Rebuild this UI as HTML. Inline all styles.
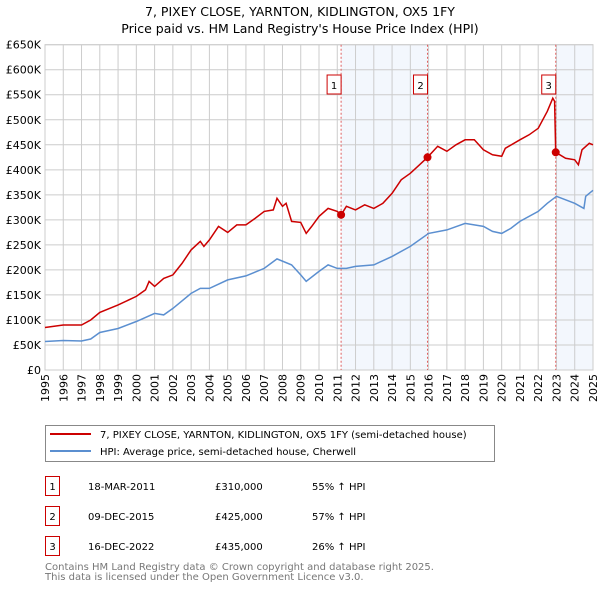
<!DOCTYPE html>
<html><head><meta charset="utf-8"><style>
body{margin:0;background:#fff;font-family:"DejaVu Sans","Liberation Sans",sans-serif;}
svg{display:block}
</style></head><body>
<svg id="c" width="600" height="590" xmlns="http://www.w3.org/2000/svg" font-family="DejaVu Sans, Liberation Sans, sans-serif">
<text x="300" y="16" text-anchor="middle" font-size="12.5" fill="#000">7, PIXEY CLOSE, YARNTON, KIDLINGTON, OX5 1FY</text>
<text x="300" y="33" text-anchor="middle" font-size="12.5" fill="#000">Price paid vs. HM Land Registry's House Price Index (HPI)</text>
<g id="grid"></g><g id="marks"></g>
<g>
<rect x="45.5" y="425.5" width="449" height="36" fill="#fff" stroke="#888"/>
<line x1="50" y1="434" x2="91" y2="434" stroke="#cc0000" stroke-width="2"/>
<text x="100" y="438" font-size="10">7, PIXEY CLOSE, YARNTON, KIDLINGTON, OX5 1FY (semi-detached house)</text>
<line x1="50" y1="451" x2="91" y2="451" stroke="#5b8fd0" stroke-width="2"/>
<text x="100" y="455" font-size="10">HPI: Average price, semi-detached house, Cherwell</text>
</g>
<g id="table" font-size="10"></g>
<text x="45" y="570" font-size="10" fill="#777">Contains HM Land Registry data © Crown copyright and database right 2025.</text>
<text x="45" y="580" font-size="10" fill="#777">This data is licensed under the Open Government Licence v3.0.</text>
</svg>
<script>
const hpiYears=[1995,1996,1997,1997.5,1998,1999,2000,2001,2001.5,2002,2003,2003.5,2004,2005,2006,2007,2007.7,2008.5,2009,2009.3,2010,2010.5,2011,2011.5,2012,2013,2014,2015,2016,2017,2018,2019,2019.5,2020,2020.5,2021,2022,2022.5,2023,2024,2024.5,2024.6,2025];
const hpiValues=[57,59,58,62,75,83,97,113,110,123,153,163,163,180,188,203,222,210,190,177,197,210,203,203,207,210,227,247,273,280,293,287,277,273,283,297,317,333,347,333,323,347,359];
const propYears=[1995,1996,1997,1997.5,1998,1999,2000,2000.5,2000.7,2001,2001.5,2002,2002.5,2003,2003.5,2003.7,2004,2004.5,2005,2005.5,2006,2006.5,2007,2007.5,2007.7,2008,2008.2,2008.5,2009,2009.3,2009.6,2010,2010.5,2011,2011.21,2011.5,2012,2012.5,2013,2013.5,2014,2014.5,2015,2015.5,2015.94,2016.5,2017,2017.5,2018,2018.5,2019,2019.5,2020,2020.2,2021,2021.5,2022,2022.5,2022.8,2022.9,2022.96,2023.5,2024,2024.2,2024.4,2024.8,2025];
const propValues=[85,90,90,100,115,130,147,160,177,167,183,190,213,240,257,247,260,287,275,290,290,303,317,320,343,327,333,297,295,273,287,307,323,317,310,327,320,330,323,333,353,380,393,410,425,447,437,450,460,460,440,430,427,443,460,470,483,517,543,537,435,423,420,410,440,453,450];
const saleYears=[2011.21,2015.94,2022.96];
const saleValues=[310,425,435];
const saleLabels=["1","2","3"];
const saleDates=["18-MAR-2011","09-DEC-2015","16-DEC-2022"];
const salePrices=["£310,000","£425,000","£435,000"];
const salePct=["55% ↑ HPI","57% ↑ HPI","26% ↑ HPI"];
const yTicks=[0,50,100,150,200,250,300,350,400,450,500,550,600,650];
const yTickLabels=["£0","£50K","£100K","£150K","£200K","£250K","£300K","£350K","£400K","£450K","£500K","£550K","£600K","£650K"];
const xTicks=[1995,1996,1997,1998,1999,2000,2001,2002,2003,2004,2005,2006,2007,2008,2009,2010,2011,2012,2013,2014,2015,2016,2017,2018,2019,2020,2021,2022,2023,2024,2025];

const L=45,R=593,T=44.7,B=370;
const X=y=>L+(y-1995)/(2025-1995)*(R-L);
const Y=v=>B-v/650*(B-T);
const NS="http://www.w3.org/2000/svg";
function mk(tag,attrs,parent,txt){const e=document.createElementNS(NS,tag);for(const k in attrs)e.setAttribute(k,attrs[k]);if(txt!=null)e.textContent=txt;parent.appendChild(e);return e;}
const g=document.getElementById('grid'),m=document.getElementById('marks'),tb=document.getElementById('table');
// shading
for(let i=0;i<saleYears.length;i++){
  const x0=X(saleYears[i]);const x1=i+1<saleYears.length?X(saleYears[i+1]):R;
  if(i%2===0){const r=mk('rect',{x:x0,y:T,width:x1-x0,height:B-T,fill:'#eef3fc',opacity:0.7},g);
  
  }
}
yTicks.forEach((v,i)=>{
  const l=mk('line',{x1:L,x2:R,y1:Y(v),y2:Y(v),stroke:'#cccccc','stroke-width':1},g);
  
  
  const t=mk('text',{x:L-4,y:Y(v)+4,'text-anchor':'end','font-size':11},g,yTickLabels[i]);
  
  
});
xTicks.forEach(y=>{
  const l=mk('line',{x1:X(y),x2:X(y),y1:T,y2:B,stroke:'#cccccc','stroke-width':1},g);
  
  
  const t=mk('text',{x:0,y:0,'font-size':11,'text-anchor':'end',transform:`translate(${X(y)+4},${B+4}) rotate(-90)`},g,String(y));
  
  
});
mk('rect',{x:L,y:T,width:R-L,height:B-T,fill:'none',stroke:'#cccccc'},g);
saleYears.forEach((y,i)=>{
  const l=mk('line',{x1:X(y),x2:X(y),y1:T,y2:B,stroke:'#e06060','stroke-width':1,'stroke-dasharray':'2,2'},m);
  
  
});
const pts=(xs,vs)=>xs.map((x,i)=>X(x).toFixed(1)+','+Y(vs[i]).toFixed(1)).join(' ');
const hp=mk('polyline',{points:pts(hpiYears,hpiValues),fill:'none',stroke:'#5b8fd0','stroke-width':1.5},m);


const pp=mk('polyline',{points:pts(propYears,propValues),fill:'none',stroke:'#cc0000','stroke-width':1.5},m);


saleYears.forEach((y,i)=>{
  const c=mk('circle',{cx:X(y),cy:Y(saleValues[i]),r:4,fill:'#cc0000'},m);
  
  
  const bx=X(y)-9;
  const r=mk('rect',{x:bx-5,y:75,width:14,height:19,fill:'#fff',stroke:'#cc0000'},m);
  
  
  const t=mk('text',{x:bx+2,y:89,'text-anchor':'middle','font-size':10},m,saleLabels[i]);
  
  
});
saleYears.forEach((y,i)=>{
  const yy=476+i*30;
  const r=mk('rect',{x:45.5,y:yy+0.5,width:14,height:19,fill:'#fff',stroke:'#cc0000'},tb);
  
  
  const a=mk('text',{x:52.5,y:yy+14,'text-anchor':'middle'},tb,saleLabels[i]);
  
  
  const b=mk('text',{x:88,y:yy+14},tb,saleDates[i]);
  
  
  const c=mk('text',{x:215,y:yy+14},tb,salePrices[i]);
  
  
  const d=mk('text',{x:312,y:yy+14},tb,salePct[i]);
  
  
});
</script>
</body></html>
